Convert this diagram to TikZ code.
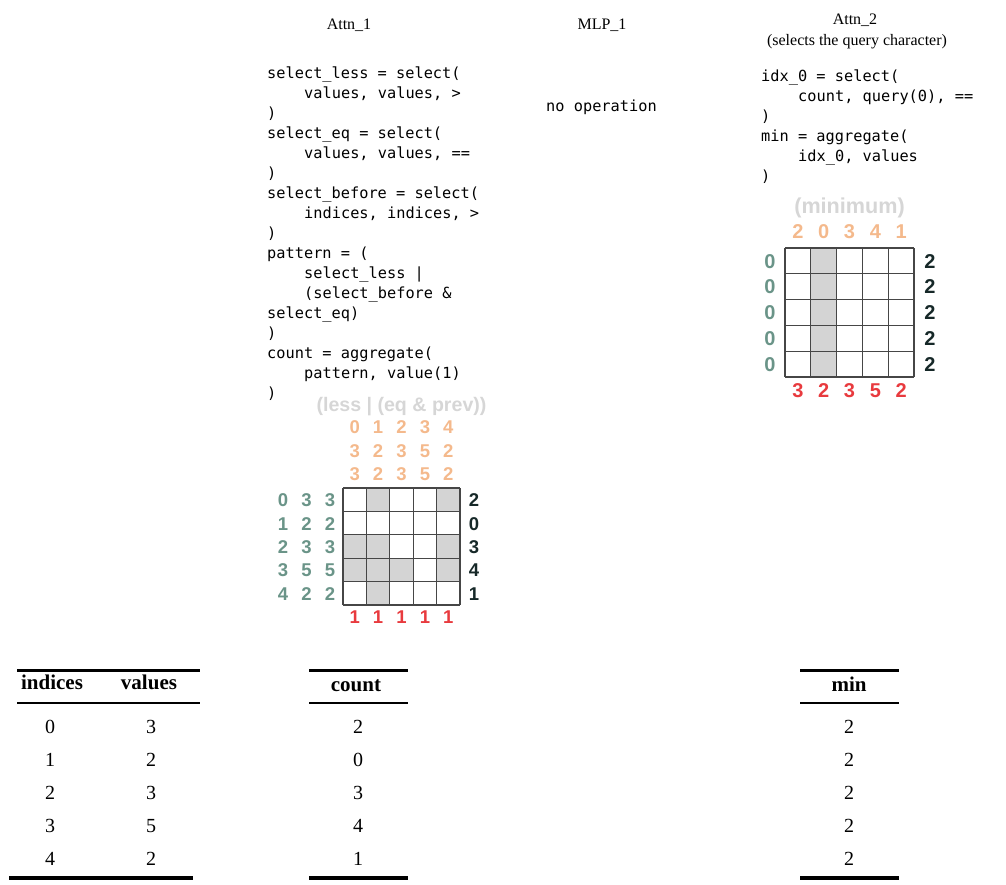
\documentclass[tikz,border=0pt]{standalone}
\usepackage{fontspec}
\setmainfont{Liberation Serif}
\newfontfamily\codefont{DejaVu Sans Mono}
\newfontfamily\lblfont{Liberation Sans}
\definecolor{corange}{RGB}{244,185,140}
\definecolor{cgreen}{RGB}{106,148,136}
\definecolor{cred}{RGB}{232,58,62}
\definecolor{cdark}{RGB}{22,40,40}
\definecolor{ctitle}{RGB}{214,214,214}
\definecolor{cfill}{RGB}{212,212,212}
\definecolor{cgrid}{RGB}{70,70,70}
\tikzset{
  code/.style={anchor=base west, inner sep=0pt, font=\codefont\fontsize{15.3}{18}\selectfont},
  ttl/.style={anchor=base, inner sep=0pt, font=\fontsize{16}{19}\selectfont},
  lblA/.style={anchor=base, inner sep=0pt, font=\lblfont\bfseries\fontsize{18.5}{21}\selectfont},
  lblB/.style={anchor=base, inner sep=0pt, font=\lblfont\bfseries\fontsize{20}{23}\selectfont},
  gtitleA/.style={anchor=base, inner sep=0pt, text=ctitle, font=\lblfont\bfseries\fontsize{19.6}{22}\selectfont},
  gtitleB/.style={anchor=base, inner sep=0pt, text=ctitle, font=\lblfont\bfseries\fontsize{21.6}{24}\selectfont},
  gridline/.style={draw=cgrid, line width=1.1pt},
  thead/.style={anchor=base, inner sep=0pt, font=\bfseries\fontsize{21}{24}\selectfont},
  tcell/.style={anchor=base, inner sep=0pt, font=\fontsize{20}{24}\selectfont},
  toprule/.style={line width=3pt},
  midrule/.style={line width=1.8pt},
  botrule/.style={line width=3.5pt},
}
\begin{document}
\begin{tikzpicture}[x=1pt,y=-1pt]
\useasboundingbox (0,0) rectangle (1006,884);

% ---------- titles ----------
\node[ttl] (tA1) at (349,29) {Attn\_1};
\node[ttl] (tM1) at (602,29) {MLP\_1};
\node[ttl] (tA2) at (855,24) {Attn\_2};
\node[ttl] (tA2s) at (857,45) {(selects the query character)};

% ---------- code Attn_1 ----------
\node[code] (c1)  at (267,78)  {select\_less = select(};
\node[code] (c2)  at (304,98)  {values, values, >};
\node[code] (c3)  at (267,118) {)};
\node[code] (c4)  at (267,138) {select\_eq = select(};
\node[code] (c5)  at (304,158) {values, values, ==};
\node[code] (c6)  at (267,178) {)};
\node[code] (c7)  at (267,198) {select\_before = select(};
\node[code] (c8)  at (304,218) {indices, indices, >};
\node[code] (c9)  at (267,238) {)};
\node[code] (c10) at (267,258) {pattern = (};
\node[code] (c11) at (304,278) {select\_less |};
\node[code] (c12) at (304,298) {(select\_before \&};
\node[code] (c13) at (267,318) {select\_eq)};
\node[code] (c14) at (267,338) {)};
\node[code] (c15) at (267,358) {count = aggregate(};
\node[code] (c16) at (304,378) {pattern, value(1)};
\node[code] (c17) at (267,398) {)};

% ---------- MLP_1 ----------
\node[code] (nop) at (546,111) {no operation};

% ---------- code Attn_2 ----------
\node[code] (d1) at (761,81)  {idx\_0 = select(};
\node[code] (d2) at (798,101) {count, query(0), ==};
\node[code] (d3) at (761,121) {)};
\node[code] (d4) at (761,141) {min = aggregate(};
\node[code] (d5) at (798,161) {idx\_0, values};
\node[code] (d6) at (761,181) {)};

% ---------- grid 1 ----------
\foreach \r/\c in {0/1,0/4,2/0,2/1,2/4,3/0,3/1,3/2,3/4,4/1}
  \fill[cfill] ({343+23.4*\c},{488+23.4*\r}) rectangle ++(23.4,23.4);
\foreach \i in {0,...,5} {
  \draw[gridline] ({343+23.4*\i},488) -- ({343+23.4*\i},605);
  \draw[gridline] (343,{488+23.4*\i}) -- (460,{488+23.4*\i});
}
\node[gtitleA] (g1title) at (401.5,411) {(less | (eq \& prev))};
\foreach \v [count=\c from 0] in {0,1,2,3,4}
  \node[lblA,text=corange] (g1ta-\c) at ({354.7+23.4*\c},433.5) {\v};
\foreach \v [count=\c from 0] in {3,2,3,5,2}
  \node[lblA,text=corange] (g1tb-\c) at ({354.7+23.4*\c},457.5) {\v};
\foreach \v [count=\c from 0] in {3,2,3,5,2}
  \node[lblA,text=corange] (g1tc-\c) at ({354.7+23.4*\c},480.5) {\v};
\foreach \a/\b [count=\r from 0] in {0/3,1/2,2/3,3/5,4/2} {
  \node[lblA,text=cgreen] (g1la-\r) at (283,{506.7+23.4*\r}) {\a};
  \node[lblA,text=cgreen] (g1lb-\r) at (306.5,{506.7+23.4*\r}) {\b};
  \node[lblA,text=cgreen] (g1lc-\r) at (330,{506.7+23.4*\r}) {\b};
}
\foreach \v [count=\r from 0] in {2,0,3,4,1}
  \node[lblA,text=cdark] (g1r-\r) at (474,{506.7+23.4*\r}) {\v};
\foreach \c in {0,...,4}
  \node[lblA,text=cred] (g1b-\c) at ({354.7+23.4*\c},623.5) {1};

% ---------- grid 2 ----------
\fill[cfill] (810.8,248) rectangle (836.6,377);
\foreach \i in {0,...,5} {
  \draw[gridline] ({785+25.8*\i},248) -- ({785+25.8*\i},377);
  \draw[gridline] (785,{248+25.8*\i}) -- (914,{248+25.8*\i});
}
\node[gtitleB] (g2title) at (849.5,213) {(minimum)};
\foreach \v [count=\c from 0] in {2,0,3,4,1}
  \node[lblB,text=corange] (g2t-\c) at ({797.9+25.8*\c},238.5) {\v};
\foreach \r in {0,...,4} {
  \node[lblB,text=cgreen] (g2l-\r) at (770,{268.1+25.8*\r}) {0};
  \node[lblB,text=cdark] (g2r-\r) at (930,{268.1+25.8*\r}) {2};
}
\foreach \v [count=\c from 0] in {3,2,3,5,2}
  \node[lblB,text=cred] (g2b-\c) at ({797.9+25.8*\c},397.5) {\v};

% ---------- table 1 ----------
\coordinate (t1tl) at (17,670);  \coordinate (t1tr) at (200,670);
\coordinate (t1ml) at (17,703);  \coordinate (t1mr) at (200,703);
\coordinate (t1bl) at (9,878);   \coordinate (t1br) at (193,878);
\draw[toprule] (t1tl) -- (t1tr);
\draw[midrule] (t1ml) -- (t1mr);
\draw[botrule] (t1bl) -- (t1br);
\node[thead] (h-idx) at (52,689) {indices};
\node[thead] (h-val) at (149,689) {values};
\foreach \a/\b [count=\r from 0] in {0/3,1/2,2/3,3/5,4/2} {
  \node[tcell] (t1a-\r) at (50,{733+33*\r}) {\a};
  \node[tcell] (t1b-\r) at (151,{733+33*\r}) {\b};
}

% ---------- table 2 ----------
\coordinate (t2tl) at (309,670);  \coordinate (t2tr) at (408,670);
\coordinate (t2ml) at (309,703);  \coordinate (t2mr) at (408,703);
\coordinate (t2bl) at (309,878);  \coordinate (t2br) at (408,878);
\draw[toprule] (t2tl) -- (t2tr);
\draw[midrule] (t2ml) -- (t2mr);
\draw[botrule] (t2bl) -- (t2br);
\node[thead] (h-cnt) at (356,691) {count};
\foreach \v [count=\r from 0] in {2,0,3,4,1}
  \node[tcell] (t2-\r) at (358,{733+33*\r}) {\v};

% ---------- table 3 ----------
\coordinate (t3tl) at (800,670);  \coordinate (t3tr) at (899,670);
\coordinate (t3ml) at (800,703);  \coordinate (t3mr) at (899,703);
\coordinate (t3bl) at (800,878);  \coordinate (t3br) at (899,878);
\draw[toprule] (t3tl) -- (t3tr);
\draw[midrule] (t3ml) -- (t3mr);
\draw[botrule] (t3bl) -- (t3br);
\node[thead] (h-min) at (849,691) {min};
\foreach \r in {0,...,4}
  \node[tcell] (t3-\r) at (849,{733+33*\r}) {2};
\end{tikzpicture}
\end{document}
